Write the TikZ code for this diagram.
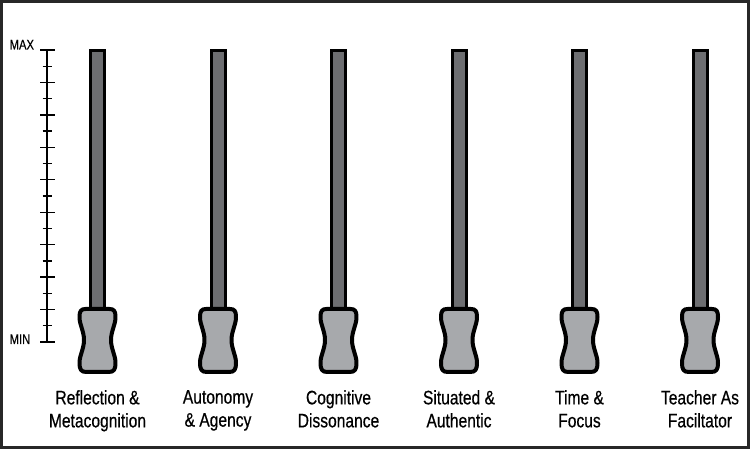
\documentclass[tikz,border=0pt]{standalone}
\usepackage{fontspec}
\setmainfont{Liberation Sans}[FakeStretch=0.8,FakeBold=0.5]
\definecolor{trackgray}{RGB}{109,110,113}
\definecolor{handlegray}{RGB}{167,169,172}
\definecolor{framegray}{RGB}{40,40,40}
\begin{document}
\begin{tikzpicture}[x=1pt,y=-1pt,
  frame/.style={draw=framegray,line width=3pt},
  track/.style={draw=black,fill=trackgray,line width=3pt},
  handle/.style={draw=black,fill=handlegray,line width=4pt,line join=round},
  axisline/.style={draw=black,line width=1.5pt},
  tickmark/.style={draw=black,line width=1.3pt},
  lbl/.style={align=center,font=\fontsize{19.5}{23}\selectfont,inner sep=0pt},
  scl/.style={font=\fontsize{14}{14}\selectfont,inner sep=0pt}]
\useasboundingbox (0,0) rectangle (750,454);
\draw[frame] (1.5,1.5) rectangle (748,447.5);
% scale
\coordinate (axtop) at (47,50);
\coordinate (axbot) at (47,342);
\draw[axisline] (axtop) -- (axbot);
\foreach \k in {0,...,18}{
  \pgfmathsetmacro{\yy}{50+\k*292/18}
  \pgfmathtruncatemacro{\ev}{mod(\k,2)}
  \ifnum\ev=0
    \draw[tickmark] (40,\yy) -- (54.5,\yy);
  \else
    \draw[tickmark] (42.5,\yy) -- (52,\yy);
  \fi
}
\node[scl,anchor=base west] (maxlbl) at (9.5,49.5) {MAX};
\node[scl,anchor=base west] (minlbl) at (9.5,344) {MIN};
% sliders
\foreach \i/\cx/\a/\b in {1/97.5/Reflection \&/Metacognition,
                         2/218/Autonomy/\& Agency,
                         3/338.5/Cognitive/Dissonance,
                         4/459/Situated \&/Authentic,
                         5/579.5/Time \&/Focus,
                         6/700/Teacher As/Faciltator}{
  \draw[track] (\cx-7,320) -- (\cx-7,50.5) -- (\cx+7,50.5) -- (\cx+7,320) -- cycle;
  \draw[handle] (\cx-12,309) -- (\cx+12,309)
     .. controls (\cx+16.5,309) and (\cx+18,311) .. (\cx+18,317)
     .. controls (\cx+18,325) and (\cx+13.5,331) .. (\cx+13.5,340)
     .. controls (\cx+13.5,349) and (\cx+18,355) .. (\cx+18,363)
     .. controls (\cx+18,369.5) and (\cx+16.5,372) .. (\cx+11,372)
     -- (\cx-11,372)
     .. controls (\cx-16.5,372) and (\cx-18,369.5) .. (\cx-18,363)
     .. controls (\cx-18,355) and (\cx-13.5,349) .. (\cx-13.5,340)
     .. controls (\cx-13.5,331) and (\cx-18,325) .. (\cx-18,317)
     .. controls (\cx-18,311) and (\cx-16.5,309) .. (\cx-12,309) -- cycle;
  \node[lbl,anchor=north] (label\i) at (\cx,390) {\a\\\b};
}
\end{tikzpicture}
\end{document}
